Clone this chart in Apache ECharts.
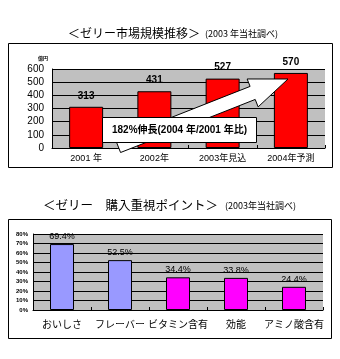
<!DOCTYPE html>
<html>
<head>
<meta charset="utf-8">
<script src="https://cdn.jsdelivr.net/npm/echarts@6/dist/echarts.min.js"></script>
<style>
  html, body { margin: 0; padding: 0; background: #fff; }
  #chart { width: 340px; height: 359px; }
</style>
</head>
<body>
<div id="chart"></div>
<script>
// Market size by year (unit: 億円)
const marketYears = ['2001 年', '2002年', '2003年見込', '2004年予測'];
const marketValues = [313, 431, 527, 570];

// Purchase priorities (% of respondents)
const pointCategories = ['おいしさ', 'フレーバー', 'ビタミン含有', '効能', 'アミノ酸含有'];
const pointValues = [69.4, 52.5, 34.4, 33.8, 24.4];

const growthText = '182%伸長(2004 年/2001 年比)';

const FONT = "'Liberation Sans', 'Noto Sans CJK JP', sans-serif";
const JP = "'Noto Sans CJK JP', sans-serif";

const chart = echarts.init(document.getElementById('chart'), null, { renderer: 'canvas' });

// Outlined arrow shape built from a tail point and a tip point
function arrowPoints(tail, tip, shaftHalf, headHalf, headLen) {
  const dx = tip[0] - tail[0], dy = tip[1] - tail[1];
  const len = Math.sqrt(dx * dx + dy * dy);
  const ux = dx / len, uy = dy / len;
  const nx = -uy, ny = ux;
  const bx = tip[0] - ux * headLen, by = tip[1] - uy * headLen;
  return [
    [tail[0] + nx * shaftHalf, tail[1] + ny * shaftHalf],
    [bx + nx * shaftHalf, by + ny * shaftHalf],
    [bx + nx * headHalf, by + ny * headHalf],
    tip,
    [bx - nx * headHalf, by - ny * headHalf],
    [bx - nx * shaftHalf, by - ny * shaftHalf],
    [tail[0] - nx * shaftHalf, tail[1] - ny * shaftHalf]
  ];
}

const option = {
  animation: false,
  backgroundColor: '#fff',
  grid: [
    { left: 52, top: 69, width: 273, height: 79, show: true, backgroundColor: '#c0c0c0', borderWidth: 0 },
    { left: 33, top: 234, width: 290, height: 76, show: true, backgroundColor: '#c0c0c0', borderWidth: 0 }
  ],
  xAxis: [
    {
      gridIndex: 0, type: 'category', data: marketYears,
      axisLine: { lineStyle: { color: '#000', width: 1 } },
      axisTick: { show: true, inside: true, length: 3, lineStyle: { color: '#000' } },
      axisLabel: { color: '#000', fontSize: 9, fontFamily: FONT, margin: 6, interval: 0 }
    },
    {
      gridIndex: 1, type: 'category', data: pointCategories,
      axisLine: { lineStyle: { color: '#000', width: 1 } },
      axisTick: { show: true, inside: true, length: 3, lineStyle: { color: '#000' } },
      axisLabel: { color: '#000', fontSize: 10, fontFamily: JP, margin: 9, interval: 0, hideOverlap: false }
    }
  ],
  yAxis: [
    {
      gridIndex: 0, type: 'value', min: 0, max: 600, interval: 100,
      axisLine: { show: true, lineStyle: { color: '#000', width: 1 } },
      axisTick: { show: false },
      splitLine: { lineStyle: { color: '#000', width: 1 } },
      axisLabel: { color: '#000', fontSize: 10, fontFamily: FONT, margin: 8 }
    },
    {
      gridIndex: 1, type: 'value', min: 0, max: 80, interval: 10,
      axisLine: { show: true, lineStyle: { color: '#000', width: 1 } },
      axisTick: { show: false },
      splitLine: { lineStyle: { color: '#000', width: 1 } },
      axisLabel: { color: '#000', fontSize: 6, fontWeight: 'bold', fontFamily: FONT, margin: 5, formatter: '{value}%' }
    }
  ],
  series: [
    {
      type: 'bar', xAxisIndex: 0, yAxisIndex: 0, data: marketValues,
      barWidth: 34,
      itemStyle: { color: '#ff0000', borderColor: '#000', borderWidth: 1 },
      label: { show: true, position: 'top', distance: 6, color: '#000', fontSize: 10, fontWeight: 'bold', fontFamily: FONT },
      z: 2
    },
    {
      type: 'bar', xAxisIndex: 1, yAxisIndex: 1,
      data: pointValues.map((v, i) => ({
        value: v,
        itemStyle: { color: i < 2 ? '#9999ff' : '#ff00ff' }
      })),
      barWidth: 24,
      itemStyle: { borderColor: '#000', borderWidth: 1 },
      label: { show: true, position: 'top', distance: 3, color: '#000', fontSize: 9, fontFamily: FONT, formatter: '{c}%' },
      z: 2
    }
  ],
  graphic: [
    // frames around each chart
    { type: 'rect', shape: { x: 8.5, y: 43.5, width: 324, height: 124 }, style: { fill: 'none', stroke: '#000', lineWidth: 1 }, z: 0 },
    { type: 'rect', shape: { x: 8.5, y: 219.5, width: 323, height: 119 }, style: { fill: 'none', stroke: '#000', lineWidth: 1 }, z: 0 },
    // titles
    { type: 'text', x: 68, y: 33, style: { text: '＜ゼリー市場規模推移＞', fill: '#000', font: '12px ' + JP, textVerticalAlign: 'middle', verticalAlign: 'middle' }, z: 5 },
    { type: 'text', x: 205, y: 34, style: { text: '(2003 年当社調べ)', fill: '#000', font: '9px ' + JP, textVerticalAlign: 'middle', verticalAlign: 'middle' }, z: 5 },
    { type: 'text', x: 43, y: 205, style: { text: '＜ゼリー　購入重視ポイント＞', fill: '#000', font: '12.5px ' + JP, textVerticalAlign: 'middle', verticalAlign: 'middle' }, z: 5 },
    { type: 'text', x: 225, y: 206, style: { text: '(2003年当社調べ)', fill: '#000', font: '9px ' + JP, textVerticalAlign: 'middle', verticalAlign: 'middle' }, z: 5 },
    // unit label above the value axis
    { type: 'text', x: 38, y: 58, style: { text: '億円', fill: '#000', font: 'bold 5px ' + JP, textVerticalAlign: 'middle', verticalAlign: 'middle' }, z: 5 },
    // growth arrow
    {
      type: 'polygon',
      shape: { points: arrowPoints([118, 146], [288, 79], 7, 15, 38) },
      style: { fill: '#fff', stroke: '#000', lineWidth: 1 },
      z: 10
    },
    // callout box
    { type: 'rect', shape: { x: 102.5, y: 117.5, width: 154, height: 25 }, style: { fill: '#fff', stroke: '#000', lineWidth: 1 }, z: 11 },
    {
      type: 'text', x: 179.5, y: 130,
      style: { text: growthText, fill: '#000', font: 'bold 10px ' + FONT, textAlign: 'center', align: 'center', textVerticalAlign: 'middle', verticalAlign: 'middle' },
      z: 12
    }
  ]
};

chart.setOption(option);
</script>
</body>
</html>
